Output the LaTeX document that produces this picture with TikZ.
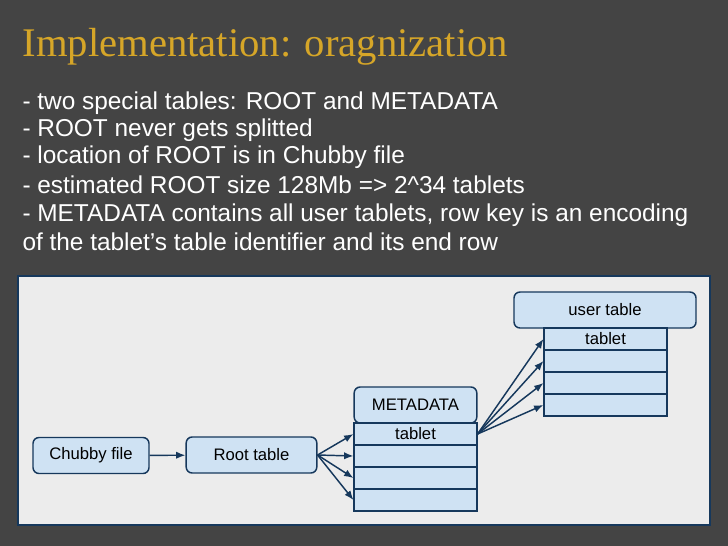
\documentclass[tikz,border=0pt]{standalone}
\usepackage{fontspec}
\setmainfont{Liberation Sans}
\newfontfamily\titlefont{Liberation Serif}
\usetikzlibrary{positioning,arrows.meta}
\definecolor{slide}{RGB}{68,68,68}
\definecolor{panel}{RGB}{236,236,236}
\definecolor{boxfill}{RGB}{207,226,243}
\definecolor{boxline}{RGB}{22,56,92}
\definecolor{gold}{RGB}{214,166,40}
\tikzset{every picture/.style={line width=0.75pt}}
\tikzset{
  hdr/.style={draw=boxline, fill=boxfill, rounded corners=4.5pt, line width=1.1pt, inner sep=0pt, font=\fontsize{12.5}{14}\selectfont},
  row/.style={draw=boxline, fill=boxfill, line width=1.1pt, inner sep=0pt, font=\fontsize{12.5}{14}\selectfont},
  link/.style={draw=boxline, line width=1.1pt, -{Latex[length=7pt,width=5.5pt]}},
  bullet/.style={anchor=west, inner sep=0pt, text=white, font=\fontsize{18.3}{20}\selectfont}
}
\begin{document}
\begin{tikzpicture}[x=0.75pt,y=0.75pt,yscale=-1,xscale=1]
\fill [slide] (0,0) rectangle (728,546);
\useasboundingbox (0,0) rectangle (728,546);
\draw [boxline, fill=panel, line width=1.5pt] (18,276) rectangle (710,525);

% title and bullets
\node (title) [anchor=west, inner sep=0pt, text=gold, font=\titlefont\fontsize{30.5}{34}\selectfont] at (22,47) {Implementation: oragnization};
\node (b1) [bullet] at (22,103) {- two special tables: ROOT and METADATA};
\node (b2) [bullet] at (22,130) {- ROOT never gets splitted};
\node (b3) [bullet] at (22,157) {- location of ROOT is in Chubby file};
\node (b4) [bullet] at (22,185) {- estimated ROOT size 128Mb => 2\^{}34 tablets};
\node (b5) [bullet] at (22,215) {- METADATA contains all user tablets, row key is an encoding};
\node (b6) [bullet] at (22,242) {of the tablet’s table identifier and its end row};

% diagram
\node (chubby) [hdr, minimum width=87pt, minimum height=27pt] at (91,455.5) {Chubby file};
\node (root) [hdr, minimum width=98pt, minimum height=27pt] at (251.5,455) {Root table};
\node (meta) [hdr, minimum width=92pt, minimum height=27pt] at (415.5,405) {METADATA};
\node (m1) [row, minimum width=92pt, minimum height=16.5pt] at (415.5,434) {tablet};
\node (m2) [row, minimum width=92pt, minimum height=16.5pt] at (415.5,456) {};
\node (m3) [row, minimum width=92pt, minimum height=16.5pt] at (415.5,478) {};
\node (m4) [row, minimum width=92pt, minimum height=16.5pt] at (415.5,500) {};
\node (user) [hdr, minimum width=136.5pt, minimum height=27pt] at (605,310) {user table};
\node (u1) [row, minimum width=92pt, minimum height=16.5pt] at (605.5,339) {tablet};
\node (u2) [row, minimum width=92pt, minimum height=16.5pt] at (605.5,361) {};
\node (u3) [row, minimum width=92pt, minimum height=16.5pt] at (605.5,383) {};
\node (u4) [row, minimum width=92pt, minimum height=16.5pt] at (605.5,405) {};

\draw [link] (chubby) -- (root);
\foreach \r in {m1,m2,m3,m4}
  \draw [link] (root.east) -- (\r.west);
\foreach \r in {u1,u2,u3,u4}
  \draw [link] (m1.east) -- (\r.west);

\end{tikzpicture}
\end{document}
